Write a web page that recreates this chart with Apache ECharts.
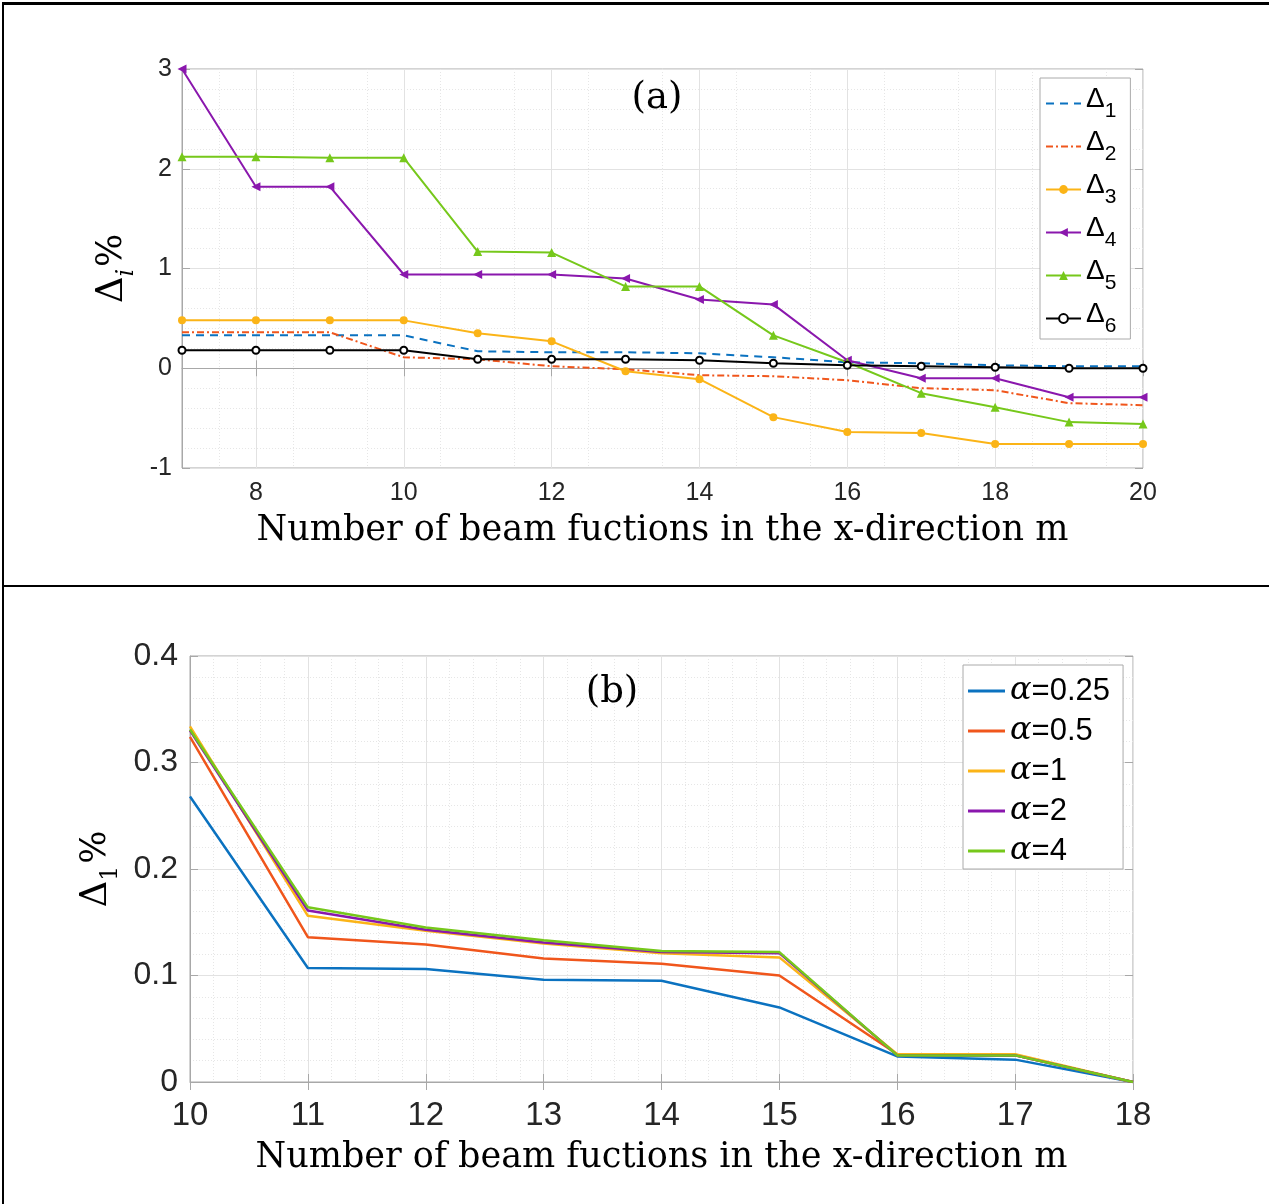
<!DOCTYPE html>
<html>
<head>
<meta charset="utf-8">
<script src="https://cdn.jsdelivr.net/npm/echarts@6/dist/echarts.min.js"></script>
<style>
html,body{margin:0;padding:0;background:#fff;}
#wrap{position:relative;width:1269px;height:1204px;overflow:hidden;}
#chart{position:absolute;left:0;top:0;width:1269px;height:1204px;}
.bd{position:absolute;background:#000;}
</style>
</head>
<body>
<div id="wrap">
<div id="chart"></div>
<div class="bd" style="left:2px;top:2px;width:1267px;height:3px;"></div>
<div class="bd" style="left:2px;top:2px;width:2px;height:1202px;"></div>
<div class="bd" style="left:2px;top:585px;width:1267px;height:2px;"></div>
</div>
<script>
// ---------- Panel (a) data ----------
const mA = [7, 8, 9, 10, 11, 12, 13, 14, 15, 16, 17, 18, 19, 20];
const xTicksA = [8, 10, 12, 14, 16, 18, 20];
const namesA = ['Δ1', 'Δ2', 'Δ3', 'Δ4', 'Δ5', 'Δ6'];
const delta1 = [0.33, 0.33, 0.33, 0.33, 0.17, 0.16, 0.16, 0.15, 0.11, 0.06, 0.05, 0.03, 0.02, 0.02];
const delta2 = [0.36, 0.36, 0.36, 0.11, 0.09, 0.02, -0.01, -0.07, -0.08, -0.12, -0.20, -0.22, -0.35, -0.37];
const delta3 = [0.48, 0.48, 0.48, 0.48, 0.35, 0.27, -0.03, -0.11, -0.49, -0.64, -0.65, -0.76, -0.76, -0.76];
const delta4 = [3.0, 1.82, 1.82, 0.94, 0.94, 0.94, 0.90, 0.69, 0.64, 0.08, -0.10, -0.10, -0.29, -0.29];
const delta5 = [2.12, 2.12, 2.11, 2.11, 1.17, 1.16, 0.82, 0.82, 0.33, 0.06, -0.25, -0.39, -0.54, -0.56];
const delta6 = [0.18, 0.18, 0.18, 0.18, 0.09, 0.09, 0.09, 0.08, 0.05, 0.03, 0.02, 0.01, 0.0, 0.0];

// ---------- Panel (b) data ----------
const mB = [10, 11, 12, 13, 14, 15, 16, 17, 18];
const namesB = ['α=0.25', 'α=0.5', 'α=1', 'α=2', 'α=4'];
const alpha025 = [0.268, 0.107, 0.106, 0.096, 0.095, 0.070, 0.024, 0.021, 0];
const alpha05  = [0.324, 0.136, 0.129, 0.116, 0.111, 0.100, 0.026, 0.025, 0];
const alpha1   = [0.334, 0.156, 0.142, 0.130, 0.121, 0.117, 0.026, 0.026, 0];
const alpha2   = [0.330, 0.161, 0.143, 0.131, 0.122, 0.121, 0.025, 0.025, 0];
const alpha4   = [0.331, 0.164, 0.145, 0.133, 0.123, 0.122, 0.025, 0.025, 0];

const C = {blue:'#0b72c0', orange:'#f0561c', yellow:'#fbb417', purple:'#8a17ad', green:'#76c81b', black:'#000'};
const SANS = 'Liberation Sans, Arial, sans-serif';
const SERIF = 'DejaVu Serif, serif';
const AX = '#a8a8a8';
const MAJ = '#e2e2e2';
const MIN = '#e6e6e6';

function zip(xs, ys){ return xs.map((x,i)=>[x, ys[i]]); }

const chart = echarts.init(document.getElementById('chart'), null, {renderer:'canvas'});

function baseAxis(extra){
  return Object.assign({
    type:'value',
    axisLine:{show:true, lineStyle:{color:AX, width:1}},
    axisTick:{show:true, inside:true, length:8, lineStyle:{color:AX}},
    splitLine:{show:true, lineStyle:{color:MAJ, width:1}},
    minorTick:{show:false},
    minorSplitLine:{show:true, lineStyle:{color:MIN, type:[1,2], width:1}}
  }, extra);
}

function nameRich(subItalic){
  return {
    d:{fontFamily:SERIF, fontSize:37, color:'#000', verticalAlign:'bottom', padding:[0,0,8,0]},
    s:{fontFamily:SERIF, fontStyle:subItalic ? 'italic' : 'normal', fontSize:24, color:'#000', verticalAlign:'bottom'},
    p:{fontFamily:SERIF, fontSize:35, color:'#000', verticalAlign:'bottom', padding:[0,0,9,2]}
  };
}

const legendHide = {opacity:0};

const option = {
  animation:false,
  backgroundColor:'#fff',
  grid:[
    {left:182, top:69, width:961, height:399, show:true, borderColor:AX, borderWidth:1, backgroundColor:'transparent'},
    {left:190, top:656, width:943, height:426, show:true, borderColor:AX, borderWidth:1, backgroundColor:'transparent'}
  ],
  xAxis:[
    baseAxis({gridIndex:0, min:7, max:20, interval:1,
      axisLabel:{customValues:xTicksA, fontSize:25, fontFamily:SANS, color:'#262626', margin:13},
      axisTick:{show:true, inside:true, length:8, customValues:xTicksA, lineStyle:{color:AX}},
      splitLine:{show:true, customValues:xTicksA, lineStyle:{color:MAJ, width:1}},
      minorTick:{show:false, splitNumber:2},
      minorSplitLine:{show:true, lineStyle:{color:MIN, type:[1,2], width:1}},
      name:'Number of beam fuctions in the x-direction m', nameLocation:'middle', nameGap:45,
      nameTextStyle:{fontFamily:SERIF, fontSize:35, color:'#000'}
    }),
    baseAxis({gridIndex:1, min:10, max:18, interval:1,
      axisLabel:{fontSize:33, fontFamily:SANS, color:'#262626', margin:17},
      minorTick:{show:false, splitNumber:5},
      name:'Number of beam fuctions in the x-direction m', nameLocation:'middle', nameGap:58,
      nameTextStyle:{fontFamily:SERIF, fontSize:35, color:'#000'}
    }),
    {type:'value', gridIndex:0, position:'top', min:7, max:20, interval:1,
      axisLine:{show:false}, axisLabel:{show:false}, splitLine:{show:false},
      axisTick:{show:true, inside:true, length:8, customValues:xTicksA, lineStyle:{color:AX}}},
    {type:'value', gridIndex:1, position:'top', min:10, max:18, interval:1,
      axisLine:{show:false}, axisLabel:{show:false}, splitLine:{show:false},
      axisTick:{show:true, inside:true, length:8, lineStyle:{color:AX}}}
  ],
  yAxis:[
    baseAxis({gridIndex:0, min:-1, max:3, interval:1,
      axisLabel:{fontSize:25, fontFamily:SANS, color:'#262626', margin:10},
      minorTick:{show:false, splitNumber:5},
      name:'{d|Δ}{s|i}{p|%}', nameLocation:'middle', nameGap:36, nameRotate:90,
      nameTextStyle:{rich:nameRich(true)}
    }),
    baseAxis({gridIndex:1, min:0, max:0.4, interval:0.1,
      axisLabel:{fontSize:32, fontFamily:SANS, color:'#262626', margin:12},
      minorTick:{show:false, splitNumber:5},
      name:'{d|Δ}{s|1}{p|%}', nameLocation:'middle', nameGap:58, nameRotate:90,
      nameTextStyle:{rich:nameRich(false)}
    }),
    {type:'value', gridIndex:0, position:'right', min:-1, max:3, interval:1,
      axisLine:{show:false}, axisLabel:{show:false}, splitLine:{show:false},
      axisTick:{show:true, inside:true, length:8, lineStyle:{color:AX}}},
    {type:'value', gridIndex:1, position:'right', min:0, max:0.4, interval:0.1,
      axisLine:{show:false}, axisLabel:{show:false}, splitLine:{show:false},
      axisTick:{show:true, inside:true, length:8, lineStyle:{color:AX}}}
  ],
  legend:[
    {
      data:[
        {name:namesA[0], itemStyle:legendHide},
        {name:namesA[1], itemStyle:legendHide},
        namesA[2], namesA[3], namesA[4], namesA[5]
      ],
      orient:'vertical', left:1040, top:78, padding:[7,14,2,5],
      backgroundColor:'#fff', borderColor:'#aaa', borderWidth:1, borderRadius:0,
      itemWidth:35, itemHeight:11, itemGap:6,
      formatter:(n)=>'{d|Δ}{s|'+n.slice(1)+'}',
      textStyle:{rich:{
        d:{fontFamily:SANS, fontSize:28, color:'#000', verticalAlign:'bottom', padding:[0,0,9,0]},
        s:{fontFamily:SANS, fontSize:21, color:'#000', verticalAlign:'bottom'}
      }}
    },
    {
      data:namesB, orient:'vertical', left:963, top:665, padding:[10,13,2,5],
      backgroundColor:'#fff', borderColor:'#aaa', borderWidth:1, borderRadius:0,
      itemWidth:37, itemHeight:3, itemGap:8, icon:'rect',
      formatter:(n)=>'{a|α}{t|'+n.slice(1)+'}',
      textStyle:{rich:{
        a:{fontFamily:SERIF, fontStyle:'italic', fontSize:32, color:'#000', lineHeight:35},
        t:{fontFamily:SANS, fontSize:31, color:'#000', lineHeight:35}
      }}
    }
  ],
  graphic:[
    {type:'text', x:657, y:98, style:{text:'(a)', font:'37px DejaVu Serif', fill:'#000', align:'center', verticalAlign:'middle'}, z:100},
    {type:'text', x:612, y:692, style:{text:'(b)', font:'37px DejaVu Serif', fill:'#000', align:'center', verticalAlign:'middle'}, z:100}
  ],
  series:[
    {name:namesA[0], type:'line', xAxisIndex:0, yAxisIndex:0, data:zip(mA, delta1), showSymbol:false, symbol:'none',
      lineStyle:{color:C.blue, width:2, type:[8,6]}, itemStyle:{color:C.blue}},
    {name:namesA[1], type:'line', xAxisIndex:0, yAxisIndex:0, data:zip(mA, delta2), showSymbol:false, symbol:'none',
      lineStyle:{color:C.orange, width:2, type:[7,3,2,3]}, itemStyle:{color:C.orange}},
    {name:namesA[2], type:'line', xAxisIndex:0, yAxisIndex:0, data:zip(mA, delta3), symbol:'circle', symbolSize:8,
      lineStyle:{color:C.yellow, width:2}, itemStyle:{color:C.yellow}},
    {name:namesA[3], type:'line', xAxisIndex:0, yAxisIndex:0, data:zip(mA, delta4), symbol:'triangle', symbolRotate:90, symbolSize:9,
      lineStyle:{color:C.purple, width:2}, itemStyle:{color:C.purple}},
    {name:namesA[4], type:'line', xAxisIndex:0, yAxisIndex:0, data:zip(mA, delta5), symbol:'triangle', symbolSize:9,
      lineStyle:{color:C.green, width:2}, itemStyle:{color:C.green}},
    {name:namesA[5], type:'line', xAxisIndex:0, yAxisIndex:0, data:zip(mA, delta6), symbol:'emptyCircle', symbolSize:7,
      lineStyle:{color:C.black, width:2}, itemStyle:{color:C.black, borderWidth:2}},

    {name:namesB[0], type:'line', xAxisIndex:1, yAxisIndex:1, data:zip(mB, alpha025), symbol:'none', lineStyle:{color:C.blue, width:2.5}, itemStyle:{color:C.blue}},
    {name:namesB[1], type:'line', xAxisIndex:1, yAxisIndex:1, data:zip(mB, alpha05), symbol:'none', lineStyle:{color:C.orange, width:2.5}, itemStyle:{color:C.orange}},
    {name:namesB[2], type:'line', xAxisIndex:1, yAxisIndex:1, data:zip(mB, alpha1), symbol:'none', lineStyle:{color:C.yellow, width:2.5}, itemStyle:{color:C.yellow}},
    {name:namesB[3], type:'line', xAxisIndex:1, yAxisIndex:1, data:zip(mB, alpha2), symbol:'none', lineStyle:{color:C.purple, width:2.5}, itemStyle:{color:C.purple}},
    {name:namesB[4], type:'line', xAxisIndex:1, yAxisIndex:1, data:zip(mB, alpha4), symbol:'none', lineStyle:{color:C.green, width:2.5}, itemStyle:{color:C.green}}
  ]
};
chart.setOption(option);
</script>
</body>
</html>
